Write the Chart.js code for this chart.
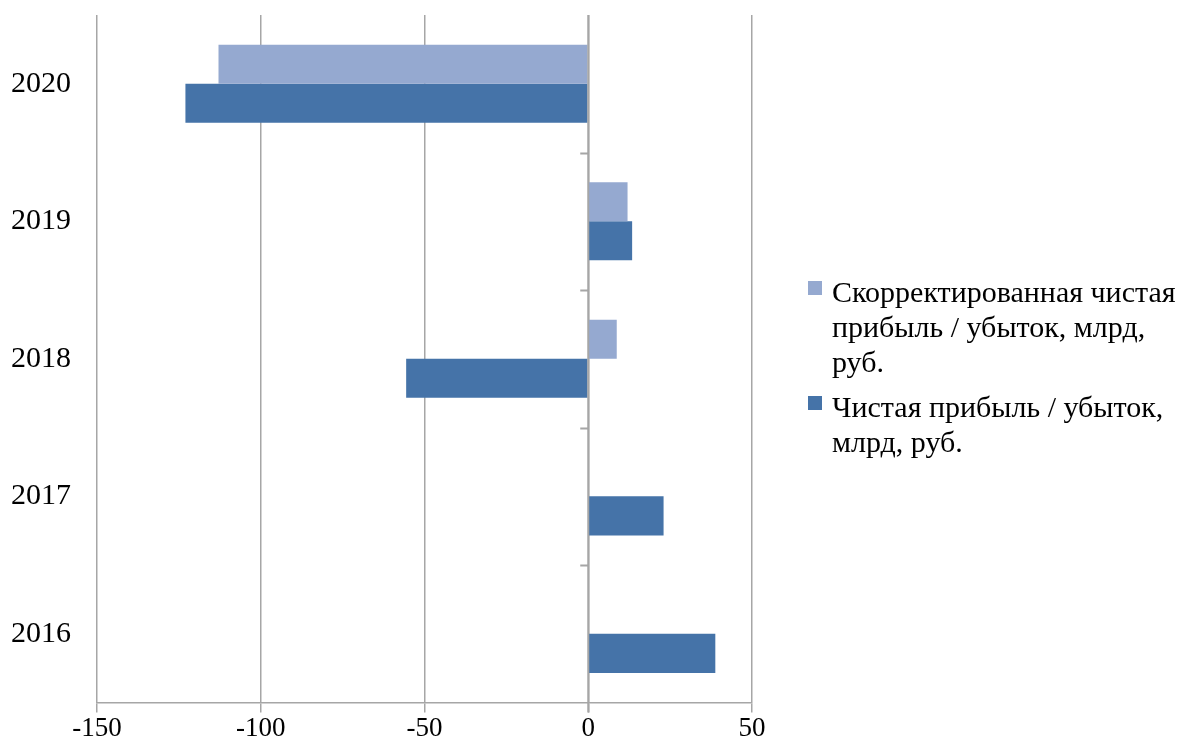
<!DOCTYPE html>
<html lang="ru">
<head>
    <meta charset="UTF-8">
    <title>Чистая прибыль / убыток</title>
    <script src="https://cdn.jsdelivr.net/npm/chart.js"></script>
    <style>
        body {
            margin: 0;
            padding: 0;
            background: #fff;
        }
        .wrap {
            position: relative;
            width: 1180px;
            height: 747px;
        }
        .legend {
            position: absolute;
            left: 808px;
            top: 274px;
            font-family: "Liberation Serif", "Times New Roman", serif;
            font-size: 30px;
            line-height: 35px;
            color: #000;
            white-space: nowrap;
        }
        .legend .item {
            position: relative;
            padding-left: 24px;
            margin-bottom: 10px;
        }
        .legend .box {
            position: absolute;
            left: 0;
            top: 7px;
            width: 14px;
            height: 14px;
        }
    </style>
</head>
<body>
    <div class="wrap">
        <canvas id="barChart"></canvas>
        <div class="legend">
            <div class="item"><span class="box" style="background:#95a9d0"></span>Скорректированная чистая<br>прибыль / убыток, млрд,<br>руб.</div>
            <div class="item"><span class="box" style="background:#4573a8"></span>Чистая прибыль / убыток,<br>млрд, руб.</div>
        </div>
    </div>
    <script>
        // Данные (годы сверху вниз, как на картинке)
        const years = ['2020', '2019', '2018', '2017', '2016'];
        const adjustedProfit = [-112.9, 12.0, 8.7, null, null];
        const netProfit = [-123.0, 13.4, -55.6, 23.0, 38.8];
        const xTicks = [-150, -100, -50, 0, 50];

        const gridColor = '#a6a6a6';

        // ось через ноль с короткими засечками между годами
        const zeroAxis = {
            id: 'zeroAxis',
            afterDatasetsDraw(chart) {
                const { ctx, chartArea, scales } = chart;
                const x0 = scales.x.getPixelForValue(0);
                ctx.save();
                ctx.strokeStyle = gridColor;
                ctx.lineWidth = 2;
                ctx.beginPath();
                ctx.moveTo(x0, chartArea.top);
                ctx.lineTo(x0, chartArea.bottom + 10);
                for (let i = 0; i < years.length - 1; i++) {
                    const y = Math.round(scales.y.getPixelForValue(i + 0.5)) + 0.5;
                    ctx.moveTo(x0, y);
                    ctx.lineTo(x0 - 8, y);
                }
                ctx.stroke();
                ctx.restore();
            }
        };

        const ctx = document.getElementById('barChart').getContext('2d');
        const barChart = new Chart(ctx, {
            type: 'bar',
            data: {
                labels: years,
                datasets: [
                    {
                        label: 'Скорректированная чистая прибыль / убыток, млрд, руб.',
                        data: adjustedProfit,
                        backgroundColor: '#95a9d0'
                    },
                    {
                        label: 'Чистая прибыль / убыток, млрд, руб.',
                        data: netProfit,
                        backgroundColor: '#4573a8'
                    }
                ]
            },
            options: {
                indexAxis: 'y',
                responsive: true,
                maintainAspectRatio: false,
                animation: false,
                categoryPercentage: 0.568,
                barPercentage: 1.0,
                layout: {
                    padding: { top: 15, right: 428, bottom: 2, left: 0 }
                },
                plugins: {
                    legend: { display: false },
                    tooltip: { enabled: false }
                },
                scales: {
                    x: {
                        min: xTicks[0],
                        max: xTicks[xTicks.length - 1],
                        afterBuildTicks: (scale) => {
                            scale.ticks = xTicks.map(v => ({ value: v }));
                        },
                        afterFit: (scale) => {
                            scale.paddingLeft = 0;
                            scale.paddingRight = 0;
                        },
                        grid: {
                            color: gridColor,
                            lineWidth: 1.5,
                            tickLength: 10
                        },
                        border: { color: gridColor, width: 1.5 },
                        ticks: {
                            padding: 0,
                            color: '#000',
                            font: { family: 'Liberation Serif', size: 27 }
                        }
                    },
                    y: {
                        grid: { display: false, drawTicks: false, tickLength: 0 },
                        border: { display: false },
                        afterFit: (scale) => {
                            scale.width = 97;
                            scale.paddingTop = 0;
                            scale.paddingBottom = 0;
                        },
                        ticks: {
                            padding: 26,
                            color: '#000',
                            font: { family: 'Liberation Serif', size: 30 }
                        }
                    }
                }
            },
            plugins: [zeroAxis]
        });
    </script>
</body>
</html>
